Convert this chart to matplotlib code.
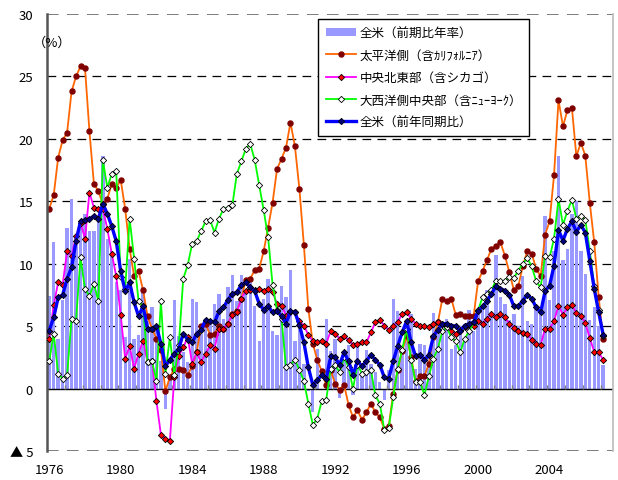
import numpy as np
import matplotlib.pyplot as plt
from matplotlib.lines import Line2D
from matplotlib.patches import Patch

plt.rcParams['font.family'] = ['Noto Sans CJK JP', 'DejaVu Sans']

# quarterly data, 1976Q1 - 2007Q1
year_labels = ["1976", "1980", "1984", "1988", "1992", "1996", "2000", "2004"]

# 全米(前期比年率)
us_qoq = [
    7.4, 11.7, 4.0, 7.1, 12.9, 15.2, 12.3, 13.0, 14.0, 12.6, 12.6, 13.5, 18.6, 12.0, 11.0, 8.5, 7.9,
    4.1, 10.4, 4.0, 4.3, 8.1, 5.4, 6.5, 5.0, 2.2, -1.6, 1.0, 7.1, 4.2, 2.9, 2.1,
    7.2, 6.9, 4.4, 5.2, 5.6, 6.8, 7.6, 5.6, 8.1, 9.1, 7.0, 9.1, 7.7, 8.6, 6.6, 3.8,
    7.2, 8.8, 4.6, 4.3, 8.2, 7.3, 9.5, 3.8, 5.0, 2.0, -0.2, -1.9, 3.2, 0.0, 5.6, 3.0,
    4.0, -0.75, 2.5, 3.5, -0.5, 3.4, 1.0, 3.1, 2.0, 1.3, 0.5, -0.95, 1.45, 7.2, 6.25, 3.0,
    4.0, 6.0, 1.6, 3.6, 3.5, 2.5, 6.06, 5.0, 4.5, 5.6, 3.2, 3.5, 5.0, 4.0, 6.3,
    4.6, 6.0, 6.5, 7.9, 6.0, 10.7, 7.3, 6.8, 5.5, 6.0, 5.0, 9.0, 5.45, 5.2, 6.5, 6.0,
    13.85, 7.1, 11.0, 18.65, 10.3, 11.2, 14.0, 15.0, 11.0, 9.2, 5.5, 6.5, 5.0, 1.85,
]

# 太平洋側(含カリフォルニア)
pacific = [
    14.4, 15.5, 18.5, 19.9, 20.5, 23.8, 25.0, 25.8, 25.7, 20.6, 16.4, 15.8, 14.8, 15.2, 16.4, 16.1, 16.7,
    14.4, 11.2, 9.0, 9.4, 7.9, 5.8, 4.8, 4.0, 3.1, -0.2, 0.9, 1.6, 1.6, 1.5, 1.1,
    1.8, 2.9, 5.0, 5.2, 4.3, 4.4, 5.05, 4.8, 5.2, 6.0, 6.2, 7.2, 8.7, 8.8, 9.5, 9.6,
    11.0, 12.9, 14.9, 17.6, 18.4, 19.3, 21.3, 19.4, 16.0, 11.5, 6.4, 3.6, 2.3, 1.4, 0.3, 1.45,
    0.4, -0.1, 0.3, -1.3, -2.3, -1.75, -2.5, -1.9, -1.2, -1.9, -2.3, -3.2, -3.0, -0.4,
    1.5, 3.0, 4.2, 2.5, 0.6, 1.0, 1.0, 2.0, 4.1, 5.3, 7.2, 7.0, 7.2, 5.9, 6.0, 5.85, 5.85,
    5.8, 8.6, 9.4, 10.3, 11.2, 11.45, 11.7, 10.65, 9.3, 7.9, 8.2, 9.8, 11.0, 10.8, 9.6, 9.0,
    12.3, 13.4, 17.1, 23.1, 21.0, 22.3, 22.5, 18.6, 19.7, 18.65, 14.9, 11.7, 7.3, 4.0,
]

# 中央北東部(含シカゴ)
north_central = [
    4.0, 6.7, 8.5, 8.3, 11.0, 10.6, 12.2, 13.3, 12.0, 15.7, 14.5, 14.4, 14.4, 12.8, 10.8, 9.0, 5.9,
    2.4, 3.4, 1.6, 2.8, 3.85, 2.1, 2.2, -1.0, -3.7, -4.0, -4.2, 0.9, 2.6, 3.3, 4.1,
    2.0, 2.9, 2.1, 2.8, 3.45, 3.2, 4.8, 4.8, 5.2, 5.9, 6.1, 7.2, 7.85, 7.9, 7.9, 8.0,
    7.85, 8.0, 7.7, 6.8, 6.65, 5.85, 6.1, 6.1, 5.4, 5.05, 4.3, 3.8, 3.7, 3.85, 3.6, 4.6,
    4.4, 4.0, 4.2, 3.9, 3.5, 3.6, 3.7, 3.7, 4.5, 5.3, 5.5, 5.05, 4.7, 5.05, 5.3, 6.0,
    6.1, 5.6, 5.2, 5.05, 5.0, 4.9, 5.2, 5.3, 5.2, 5.05, 4.65, 4.4, 4.7, 4.9, 5.1,
    5.05, 5.45, 5.2, 5.6, 6.0, 5.7, 6.0, 5.7, 5.2, 4.85, 4.6, 4.45, 4.4, 3.9, 3.6, 3.5,
    4.8, 4.8, 5.4, 6.65, 5.9, 6.5, 6.7, 6.05, 5.85, 5.25, 4.05, 2.95, 2.9, 2.3,
]

# 大西洋側中央部(含ニューヨーク)
mid_atlantic = [
    2.2, 4.4, 1.2, 0.8, 1.1, 5.6, 5.45, 10.5, 8.0, 7.4, 8.4, 7.0, 18.3, 16.1, 17.2, 17.4,
    8.9, 8.0, 13.6, 10.4, 7.0, 6.6, 2.1, 2.2, 0.6, 7.0, 1.2, 4.1, 1.05, 3.5, 8.8, 9.9,
    11.6, 11.8, 12.6, 13.4, 13.5, 12.5, 13.6, 14.4, 14.5, 14.7, 17.2, 18.2, 19.2, 19.6, 18.3, 16.3,
    14.3, 12.1, 8.3, 6.3, 5.6, 1.7, 1.9, 2.3, 1.5, 0.6, -1.2, -2.9, -2.4, -1.0, -0.9, 1.6,
    1.9, 1.3, 2.5, 1.7, 0.0, 1.9, 1.2, 1.3, 1.5, -0.55, -1.2, -3.3, -3.15, -0.7, 1.6, 3.1,
    4.8, 2.3, 0.5, 0.5, -0.5, 1.0, 2.4, 3.2, 4.6, 4.9, 4.1, 3.8, 2.9, 4.0, 4.6,
    5.3, 6.3, 7.3, 7.6, 7.9, 8.65, 8.6, 8.65, 8.9, 8.85, 9.45, 10.0, 10.45, 9.8, 8.6, 8.1,
    10.65, 10.5, 12.0, 15.2, 13.1, 14.25, 15.1, 13.6, 13.85, 13.5, 11.05, 8.2, 6.3, 4.25,
]

# 全米(前年同期比)
us_yoy = [
    4.65, 5.7, 7.3, 7.5, 8.8, 9.7, 11.8, 13.4, 13.5, 13.6, 13.8, 13.6, 14.8, 14.0, 13.0, 11.8, 9.4,
    7.8, 8.5, 6.9, 5.8, 6.6, 4.8, 4.8, 5.0, 3.6, 1.8, 2.3, 2.8, 3.2, 4.4, 3.9,
    3.7, 4.4, 4.7, 5.5, 5.4, 5.3, 6.2, 6.5, 7.1, 7.6, 7.7, 8.3, 8.5, 8.1, 7.8, 6.8,
    6.3, 6.6, 6.1, 6.2, 5.8, 5.2, 6.2, 6.1, 5.1, 3.7, 1.7, 0.3, 0.65, 1.1, 0.75, 2.6,
    2.5, 1.9, 2.9, 2.2, 1.1, 2.2, 1.8, 2.2, 2.7, 2.3, 1.9, 0.9, 0.8, 2.2, 3.4, 4.5,
    5.4, 3.7, 2.6, 2.7, 2.3, 2.7, 4.2, 4.7, 5.2, 5.2, 5.05, 5.0, 4.6, 5.05, 5.2,
    5.3, 6.2, 6.6, 7.0, 7.6, 8.2, 8.0, 7.85, 7.5, 6.6, 6.6, 7.05, 7.5, 7.2, 6.5, 6.1,
    7.8, 8.25, 9.85, 12.7, 11.85, 12.8, 13.4, 12.55, 13.1, 12.5, 10.25, 8.0, 6.1, 4.3,
]

labels = ["全米（前期比年率）", "太平洋側（含ｶﾘﾌｫﾙﾆｱ）", "中央北東部（含シカゴ）",
          "大西洋側中央部（含ﾆｭｰﾖｰｸ）", "全米（前年同期比）"]

x = np.arange(len(us_yoy))

fig = plt.figure(figsize=(6.18, 4.81), dpi=100)
ax = fig.add_axes([47 / 618, 29 / 481, 566 / 618, 437 / 481])

# grid (Excel style dashed lines)
for yv in [5, 10, 15, 20, 25]:
    ax.axhline(yv, color="black", lw=0.9, ls=(0, (7, 5)), zorder=0.5)
for yv in [-5, 30]:
    ax.axhline(yv, color="#666666", lw=1.2, ls=(0, (7, 5)), zorder=0.5)

ax.bar(x, us_qoq, width=0.75, color="#9999FF", zorder=1)
ax.axhline(0, color="black", lw=1.0, zorder=1.5)
# category tick marks on the zero line (year boundaries)
ax.vlines(np.arange(3.5, len(x), 4), 0, 0.25, color="#808080", lw=1.0, zorder=1.6)

mk = dict(ms=3.2, mew=0.6)
ax.plot(x, pacific, color="#FF6600", lw=1.3, marker="o", ms=3.6,
        mfc="#800000", mec="#800000", zorder=2)
ax.plot(x, north_central, color="#FF00FF", lw=1.3, marker="D",
        mfc="#FF0000", mec="black", zorder=3, **mk)
ax.plot(x, mid_atlantic, color="#00FF00", lw=1.3, marker="D",
        mfc="white", mec="black", zorder=4, **mk)
ax.plot(x, us_yoy, color="#0000FF", lw=2.4, marker="D",
        mfc="#000080", mec="black", zorder=5, **mk)

ax.set_xlim(-0.5, 126.2)
ax.set_ylim(-5, 30)
ax.set_yticks(range(-5, 31, 5))
ax.set_yticklabels(["▲ 5"] + [str(v) for v in range(0, 31, 5)], fontsize=9.5)
ax.set_xticks(np.arange(0, len(x), 16))
ax.set_xticklabels(year_labels, fontsize=9.5)
ax.tick_params(axis="both", length=0, pad=9)
ax.tick_params(axis="y", pad=10)

for side in ["top", "bottom"]:
    ax.spines[side].set_visible(False)
ax.spines["left"].set_color("#555555")
ax.spines["left"].set_linewidth(1.8)
ax.spines["right"].set_color("#BBBBBB")
ax.spines["right"].set_linewidth(1.2)

fig.text(33 / 618, 1 - 43 / 481, "（%）", fontsize=9.5, va="center", ha="left")

handles = [
    Patch(facecolor="#9999FF", edgecolor="none"),
    Line2D([], [], color="#FF6600", lw=1.3, marker="o", ms=3.6, mfc="#800000", mec="#800000"),
    Line2D([], [], color="#FF00FF", lw=1.3, marker="D", mfc="#FF0000", mec="black", **mk),
    Line2D([], [], color="#00FF00", lw=1.3, marker="D", mfc="white", mec="black", **mk),
    Line2D([], [], color="#0000FF", lw=2.4, marker="D", mfc="#000080", mec="black", **mk),
]
leg = ax.legend(handles, labels, loc="upper left", bbox_to_anchor=(0.479, 0.989),
                fontsize=9, frameon=True, fancybox=False, framealpha=1,
                edgecolor="black", labelspacing=0.75, handlelength=2.4,
                handletextpad=0.3, borderpad=0.6, borderaxespad=0)
leg.get_frame().set_linewidth(1.0)
leg.set_zorder(10)

fig.savefig("out.png", dpi=100)
